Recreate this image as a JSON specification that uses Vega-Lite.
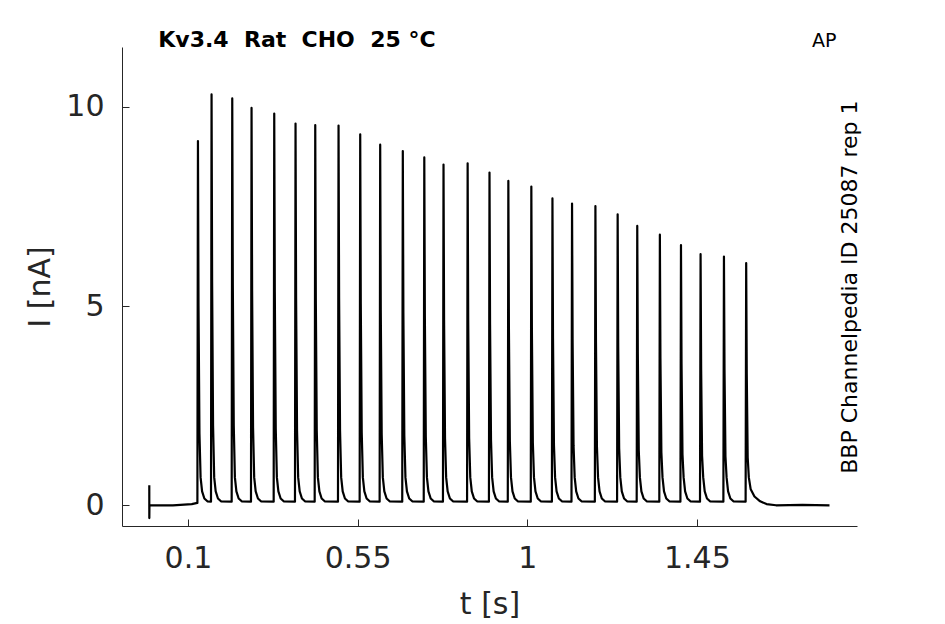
{
  "$schema": "https://vega.github.io/schema/vega-lite/v6.json",
  "autosize": "none",
  "width": 735,
  "height": 479,
  "padding": {"left": 122, "top": 47, "right": 88, "bottom": 98},
  "background": "white",
  "data": {
    "values": [
      {"t": -0.0026, "i": 0.5}, {"t": -0.0025, "i": -0.32}, {"t": -0.0022, "i": 0.0},
      {"t": 0.06, "i": 0.0}, {"t": 0.11, "i": 0.03},
      {"t": 0.1250, "i": 0.06}, {"t": 0.1265, "i": 9.14}, {"t": 0.1280, "i": 5.0}, {"t": 0.1305, "i": 1.8}, {"t": 0.1335, "i": 0.7}, {"t": 0.1375, "i": 0.35}, {"t": 0.1435, "i": 0.17}, {"t": 0.1515, "i": 0.1},
      {"t": 0.1611, "i": 0.09}, {"t": 0.1626, "i": 10.31}, {"t": 0.1641, "i": 5.6}, {"t": 0.1666, "i": 2.0}, {"t": 0.1696, "i": 0.7}, {"t": 0.1736, "i": 0.35}, {"t": 0.1796, "i": 0.17}, {"t": 0.1876, "i": 0.1},
      {"t": 0.2160, "i": 0.09}, {"t": 0.2175, "i": 10.21}, {"t": 0.2190, "i": 5.55}, {"t": 0.2215, "i": 2.0}, {"t": 0.2245, "i": 0.7}, {"t": 0.2285, "i": 0.35}, {"t": 0.2345, "i": 0.17}, {"t": 0.2425, "i": 0.1},
      {"t": 0.2672, "i": 0.09}, {"t": 0.2687, "i": 9.97}, {"t": 0.2702, "i": 5.4}, {"t": 0.2727, "i": 1.95}, {"t": 0.2757, "i": 0.7}, {"t": 0.2797, "i": 0.35}, {"t": 0.2857, "i": 0.17}, {"t": 0.2937, "i": 0.1},
      {"t": 0.3274, "i": 0.09}, {"t": 0.3289, "i": 9.83}, {"t": 0.3304, "i": 5.35}, {"t": 0.3329, "i": 1.92}, {"t": 0.3359, "i": 0.7}, {"t": 0.3399, "i": 0.35}, {"t": 0.3459, "i": 0.17}, {"t": 0.3539, "i": 0.1},
      {"t": 0.3839, "i": 0.09}, {"t": 0.3854, "i": 9.58}, {"t": 0.3869, "i": 5.2}, {"t": 0.3894, "i": 1.88}, {"t": 0.3924, "i": 0.7}, {"t": 0.3964, "i": 0.35}, {"t": 0.4024, "i": 0.17}, {"t": 0.4104, "i": 0.1},
      {"t": 0.4362, "i": 0.09}, {"t": 0.4377, "i": 9.54}, {"t": 0.4392, "i": 5.2}, {"t": 0.4417, "i": 1.87}, {"t": 0.4447, "i": 0.7}, {"t": 0.4487, "i": 0.35}, {"t": 0.4547, "i": 0.17}, {"t": 0.4627, "i": 0.1},
      {"t": 0.4980, "i": 0.09}, {"t": 0.4995, "i": 9.53}, {"t": 0.5010, "i": 5.2}, {"t": 0.5035, "i": 1.87}, {"t": 0.5065, "i": 0.7}, {"t": 0.5105, "i": 0.35}, {"t": 0.5165, "i": 0.17}, {"t": 0.5245, "i": 0.1},
      {"t": 0.5555, "i": 0.09}, {"t": 0.5570, "i": 9.31}, {"t": 0.5585, "i": 5.05}, {"t": 0.5610, "i": 1.83}, {"t": 0.5640, "i": 0.7}, {"t": 0.5680, "i": 0.35}, {"t": 0.5740, "i": 0.17}, {"t": 0.5820, "i": 0.1},
      {"t": 0.6085, "i": 0.09}, {"t": 0.6100, "i": 9.05}, {"t": 0.6115, "i": 4.92}, {"t": 0.6140, "i": 1.78}, {"t": 0.6170, "i": 0.7}, {"t": 0.6210, "i": 0.35}, {"t": 0.6270, "i": 0.17}, {"t": 0.6350, "i": 0.1},
      {"t": 0.6685, "i": 0.09}, {"t": 0.6700, "i": 8.89}, {"t": 0.6715, "i": 4.84}, {"t": 0.6740, "i": 1.75}, {"t": 0.6770, "i": 0.7}, {"t": 0.6810, "i": 0.35}, {"t": 0.6870, "i": 0.17}, {"t": 0.6950, "i": 0.1},
      {"t": 0.7255, "i": 0.09}, {"t": 0.7270, "i": 8.73}, {"t": 0.7285, "i": 4.75}, {"t": 0.7310, "i": 1.72}, {"t": 0.7340, "i": 0.7}, {"t": 0.7380, "i": 0.35}, {"t": 0.7440, "i": 0.17}, {"t": 0.7520, "i": 0.1},
      {"t": 0.7765, "i": 0.09}, {"t": 0.7780, "i": 8.55}, {"t": 0.7795, "i": 4.65}, {"t": 0.7820, "i": 1.68}, {"t": 0.7850, "i": 0.7}, {"t": 0.7890, "i": 0.35}, {"t": 0.7950, "i": 0.17}, {"t": 0.8030, "i": 0.1},
      {"t": 0.8405, "i": 0.09}, {"t": 0.8420, "i": 8.58}, {"t": 0.8435, "i": 4.67}, {"t": 0.8460, "i": 1.69}, {"t": 0.8490, "i": 0.7}, {"t": 0.8530, "i": 0.35}, {"t": 0.8590, "i": 0.17}, {"t": 0.8670, "i": 0.1},
      {"t": 0.8985, "i": 0.09}, {"t": 0.9000, "i": 8.35}, {"t": 0.9015, "i": 4.54}, {"t": 0.9040, "i": 1.64}, {"t": 0.9070, "i": 0.7}, {"t": 0.9110, "i": 0.35}, {"t": 0.9170, "i": 0.17}, {"t": 0.9250, "i": 0.1},
      {"t": 0.9485, "i": 0.09}, {"t": 0.9500, "i": 8.14}, {"t": 0.9515, "i": 4.43}, {"t": 0.9540, "i": 1.6}, {"t": 0.9570, "i": 0.7}, {"t": 0.9610, "i": 0.35}, {"t": 0.9670, "i": 0.17}, {"t": 0.9750, "i": 0.1},
      {"t": 1.0095, "i": 0.09}, {"t": 1.0110, "i": 8.0}, {"t": 1.0125, "i": 4.35}, {"t": 1.0150, "i": 1.57}, {"t": 1.0180, "i": 0.7}, {"t": 1.0220, "i": 0.35}, {"t": 1.0280, "i": 0.17}, {"t": 1.0360, "i": 0.1},
      {"t": 1.0655, "i": 0.09}, {"t": 1.0670, "i": 7.7}, {"t": 1.0685, "i": 4.19}, {"t": 1.0710, "i": 1.51}, {"t": 1.0740, "i": 0.7}, {"t": 1.0780, "i": 0.35}, {"t": 1.0840, "i": 0.17}, {"t": 1.0920, "i": 0.1},
      {"t": 1.1175, "i": 0.09}, {"t": 1.1190, "i": 7.57}, {"t": 1.1205, "i": 4.12}, {"t": 1.1230, "i": 1.49}, {"t": 1.1260, "i": 0.7}, {"t": 1.1300, "i": 0.35}, {"t": 1.1360, "i": 0.17}, {"t": 1.1440, "i": 0.1},
      {"t": 1.1795, "i": 0.09}, {"t": 1.1810, "i": 7.51}, {"t": 1.1825, "i": 4.09}, {"t": 1.1850, "i": 1.48}, {"t": 1.1880, "i": 0.7}, {"t": 1.1920, "i": 0.35}, {"t": 1.1980, "i": 0.17}, {"t": 1.2060, "i": 0.1},
      {"t": 1.2385, "i": 0.09}, {"t": 1.2400, "i": 7.3}, {"t": 1.2415, "i": 3.97}, {"t": 1.2440, "i": 1.43}, {"t": 1.2470, "i": 0.7}, {"t": 1.2510, "i": 0.35}, {"t": 1.2570, "i": 0.17}, {"t": 1.2650, "i": 0.1},
      {"t": 1.2905, "i": 0.09}, {"t": 1.2920, "i": 7.01}, {"t": 1.2935, "i": 3.81}, {"t": 1.2960, "i": 1.38}, {"t": 1.2990, "i": 0.7}, {"t": 1.3030, "i": 0.35}, {"t": 1.3090, "i": 0.17}, {"t": 1.3170, "i": 0.1},
      {"t": 1.3505, "i": 0.09}, {"t": 1.3520, "i": 6.79}, {"t": 1.3535, "i": 3.69}, {"t": 1.3560, "i": 1.33}, {"t": 1.3590, "i": 0.7}, {"t": 1.3630, "i": 0.35}, {"t": 1.3690, "i": 0.17}, {"t": 1.3770, "i": 0.1},
      {"t": 1.4065, "i": 0.09}, {"t": 1.4080, "i": 6.53}, {"t": 1.4095, "i": 3.55}, {"t": 1.4120, "i": 1.28}, {"t": 1.4150, "i": 0.7}, {"t": 1.4190, "i": 0.35}, {"t": 1.4250, "i": 0.17}, {"t": 1.4330, "i": 0.1},
      {"t": 1.4585, "i": 0.09}, {"t": 1.4600, "i": 6.3}, {"t": 1.4615, "i": 3.43}, {"t": 1.4640, "i": 1.24}, {"t": 1.4670, "i": 0.7}, {"t": 1.4710, "i": 0.35}, {"t": 1.4770, "i": 0.17}, {"t": 1.4850, "i": 0.1},
      {"t": 1.5205, "i": 0.09}, {"t": 1.5220, "i": 6.24}, {"t": 1.5235, "i": 3.4}, {"t": 1.5260, "i": 1.23}, {"t": 1.5290, "i": 0.7}, {"t": 1.5330, "i": 0.35}, {"t": 1.5390, "i": 0.17}, {"t": 1.5470, "i": 0.1},
      {"t": 1.5795, "i": 0.09}, {"t": 1.5810, "i": 6.08}, {"t": 1.5825, "i": 3.31}, {"t": 1.5850, "i": 1.2}, {"t": 1.5880, "i": 0.7}, {"t": 1.5930, "i": 0.4}, {"t": 1.6030, "i": 0.22}, {"t": 1.6180, "i": 0.1}, {"t": 1.6350, "i": 0.03},
      {"t": 1.6600, "i": 0.0}, {"t": 1.7300, "i": 0.01}, {"t": 1.8020, "i": 0.0}
    ]
  },
  "layer": [
    {
      "mark": {"type": "line", "color": "black", "strokeWidth": 2.2, "strokeJoin": "round"},
      "encoding": {
        "x": {
          "field": "t",
          "type": "quantitative",
          "scale": {"domain": [-0.075, 1.875], "nice": false, "zero": false},
          "axis": {
            "title": "t [s]",
            "values": [0.1, 0.55, 1, 1.45],
            "format": ".2~f",
            "labelPadding": 24,
            "titlePadding": 16
          }
        },
        "y": {
          "field": "i",
          "type": "quantitative",
          "scale": {"domain": [-0.52, 11.5], "nice": false, "zero": false},
          "axis": {
            "title": "I [nA]",
            "values": [0, 5, 10],
            "format": "d",
            "labelPadding": 25,
            "titlePadding": 10
          }
        }
      }
    },
    {
      "data": {"values": [{"label": "Kv3.4\u00a0\u00a0Rat\u00a0\u00a0CHO\u00a0\u00a025\u00a0°C"}]},
      "mark": {"type": "text", "font": "DejaVu Sans", "fontSize": 22, "fontWeight": "bold", "fill": "black", "align": "left", "baseline": "alphabetic"},
      "encoding": {
        "x": {"datum": 0.0212},
        "y": {"datum": 11.5},
        "text": {"field": "label"}
      }
    },
    {
      "data": {"values": [{"label": "AP"}]},
      "mark": {"type": "text", "font": "DejaVu Sans", "fontSize": 19, "fontWeight": "normal", "fill": "black", "align": "center", "baseline": "alphabetic"},
      "encoding": {
        "x": {"datum": 1.788},
        "y": {"datum": 11.5},
        "text": {"field": "label"}
      }
    },
    {
      "data": {"values": [{"label": "BBP Channelpedia ID 25087 rep 1"}]},
      "mark": {"type": "text", "font": "DejaVu Sans", "fontSize": 22, "fontWeight": "normal", "fill": "black", "align": "center", "baseline": "alphabetic", "angle": 270},
      "encoding": {
        "x": {"datum": 1.8745},
        "y": {"datum": 5.475},
        "text": {"field": "label"}
      }
    }
  ],
  "config": {
    "font": "DejaVu Sans",
    "view": {"stroke": null},
    "axis": {
      "grid": false,
      "domainColor": "#262626",
      "domainWidth": 1,
      "tickColor": "#262626",
      "tickSize": -7,
      "tickWidth": 1,
      "labelFont": "DejaVu Sans",
      "labelFontSize": 30,
      "labelColor": "#262626",
      "titleFont": "DejaVu Sans",
      "titleFontSize": 30,
      "titleFontWeight": "normal",
      "titleColor": "#262626"
    }
  }
}
